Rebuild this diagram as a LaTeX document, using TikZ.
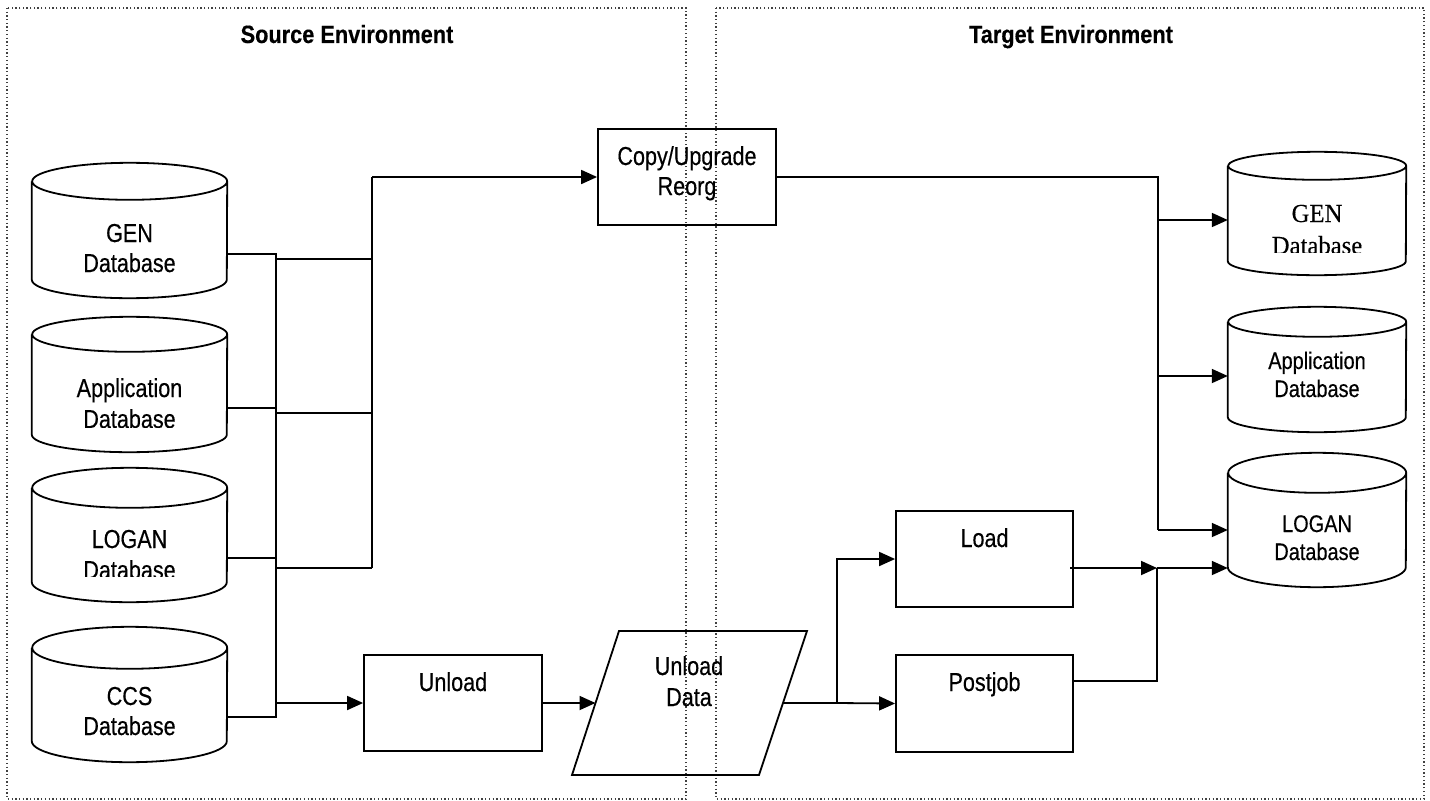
\documentclass[tikz,border=0pt]{standalone}
\usepackage{fontspec}
\usetikzlibrary{arrows.meta,calc}
\newfontfamily\labfont[FakeStretch=0.83,FakeBold=0.4]{Liberation Sans}
\newfontfamily\titfont[FakeStretch=0.87,FakeBold=0.3]{Liberation Sans}
\newfontfamily\serfont[FakeStretch=0.95,FakeBold=0.3]{Liberation Serif}
\tikzset{
  panel/.style={draw=black!75,line width=1.3bp,dash pattern=on 1.3bp off 2.4bp},
  shp/.style={draw=black,line width=1.8bp},
  con/.style={draw=black,line width=1.8bp},
  arr/.style={con,-{Triangle[length=16bp,width=14bp]}},
  box/.style={rectangle,inner sep=0pt},
  txt/.style={inner sep=0pt,anchor=base,font=\labfont\fontsize{26bp}{30bp}\selectfont},
  ttxt/.style={inner sep=0pt,anchor=base,font=\labfont\fontsize{24bp}{28bp}\selectfont},
  stxt/.style={inner sep=0pt,anchor=base,font=\serfont\fontsize{26bp}{30bp}\selectfont},
  title/.style={inner sep=0pt,anchor=base,font=\titfont\bfseries\fontsize{25bp}{30bp}\selectfont}
}
\newcommand\dbcyl[3]{%
  \draw[shp] ($(#1.north west)+(0,#3)$) -- ($(#1.south west)+(0,-#3)$)
    arc[start angle=180,end angle=360,x radius=#2bp,y radius=#3bp]
    -- ($(#1.north east)+(0,#3)$)
    arc[start angle=0,end angle=180,x radius=#2bp,y radius=#3bp]
    arc[start angle=180,end angle=360,x radius=#2bp,y radius=#3bp];}
\begin{document}
\begin{tikzpicture}[x=1bp,y=-1bp]
\useasboundingbox (0,0) rectangle (1430,800);
% panels
\draw[panel] (7,8) rectangle (686,799);
\draw[panel] (716,8) rectangle (1424,799);
\node[title] (stitle) at (347,43) {Source Environment};
\node[title] (ttitle) at (1071,43) {Target Environment};

% source cylinders
\node[box,minimum width=195bp,minimum height=135bp] (sgen) at (129.5,230.5) {};
\node[box,minimum width=195bp,minimum height=135bp] (sapp) at (129.5,384.5) {};
\node[box,minimum width=195bp,minimum height=134bp] (slog) at (129.5,535) {};
\node[box,minimum width=195bp,minimum height=135bp] (sccs) at (129.5,694.5) {};
\dbcyl{sgen}{97.5}{18.5}
\dbcyl{sapp}{97.5}{17.5}
\dbcyl{slog}{97.5}{20}
\dbcyl{sccs}{97.5}{21}
\node[txt] (sgen1) at (129.5,242) {GEN};
\node[txt] (sgen2) at (129.5,272) {Database};
\node[txt] (sapp1) at (129.5,397) {Application};
\begin{scope}
\clip (32,400) rectangle (227,427);
\node[txt] (sapp2) at (129.5,428) {Database};
\end{scope}
\node[txt] (slog1) at (129.5,548) {LOGAN};
\begin{scope}
\clip (32,552) rectangle (227,576);
\node[txt] (slog2) at (129.5,579) {Database};
\end{scope}
\node[txt] (sccs1) at (129.5,705) {CCS};
\node[txt] (sccs2) at (129.5,735) {Database};

% target cylinders
\node[box,minimum width=178bp,minimum height=123bp] (tgen) at (1317,213.5) {};
\node[box,minimum width=178bp,minimum height=125bp] (tapp) at (1317,369.5) {};
\node[box,minimum width=178bp,minimum height=134bp] (tlog) at (1317,520) {};
\dbcyl{tgen}{89}{14}
\dbcyl{tapp}{89}{15}
\dbcyl{tlog}{89}{20}
\node[stxt] (tgen1) at (1317,222) {GEN};
\begin{scope}
\clip (1228,226) rectangle (1406,252);
\node[stxt] (tgen2) at (1317,254) {Database};
\end{scope}
\node[ttxt] (tapp1) at (1317,369) {Application};
\node[ttxt] (tapp2) at (1317,397) {Database};
\node[ttxt] (tlog1) at (1317,532) {LOGAN};
\node[ttxt] (tlog2) at (1317,560) {Database};

% process boxes
\node[box,draw,line width=1.8bp,minimum width=178bp,minimum height=96bp] (copy) at (687,177) {};
\node[txt] (copy1) at (687,165) {Copy/Upgrade};
\node[txt] (copy2) at (687,195) {Reorg};
\node[box,draw,line width=1.8bp,minimum width=178bp,minimum height=96bp] (unload) at (453,703) {};
\node[txt] (unload1) at (453,691) {Unload};
\node[box,draw,line width=1.8bp,minimum width=177bp,minimum height=96bp] (load) at (984.5,559) {};
\node[txt] (load1) at (984.5,547) {Load};
\node[box,draw,line width=1.8bp,minimum width=177bp,minimum height=97bp] (postjob) at (984.5,703.5) {};
\node[txt] (postjob1) at (984.5,691) {Postjob};

% unload data parallelogram
\draw[shp] (619,631) -- (807,631) -- (759,775) -- (572,775) -- cycle;
\coordinate (dataW) at (595.5,703);
\coordinate (dataE) at (783,703);
\node[txt] (data1) at (689,675) {Unload};
\node[txt] (data2) at (689,706) {Data};

% source bus
\coordinate (b1top) at (276,254);
\coordinate (b1bot) at (276,717);
\coordinate (b2top) at (372,177);
\coordinate (b2bot) at (372,568);
\draw[con] (sgen.east |- 0,254) -- (277,254);
\draw[con] (sapp.east |- 0,408) -- (277,408);
\draw[con] (slog.east |- 0,558) -- (277,558);
\draw[con] (sccs.east |- 0,717) -- (277,717);
\draw[con] (b1top) -- (b1bot);
\draw[con] (276,259) -- (372,259);
\draw[con] (276,413) -- (372,413);
\draw[con] (276,568) -- (b2bot);
\draw[con] (b2bot) -- (b2top);
\draw[arr] (b2top) -- (copy.west);
\draw[arr] (276,703) -- (unload.west);
\draw[arr] (unload.east) -- (dataW);

% target side
\coordinate (split) at (837,703);
\draw[con] (dataE) -- (split);
\draw[arr] (split) -- (postjob.west);
\draw[arr] (split) |- (load.west);
\coordinate (merge) at (1157,568);
\draw[arr] (1070,568) -- (merge);
\draw[con] (postjob.east |- 0,681) -| (merge);
\draw[arr] (merge) -- (tlog.west |- merge);
\coordinate (cbus) at (1158,177);
\draw[con] (copy.east) -- (cbus) -- (1158,530);
\draw[arr] (1158,530) -- (tlog.west |- 0,530);
\draw[arr] (1158,220) -- (tgen.west |- 0,220);
\draw[arr] (1158,376) -- (tapp.west |- 0,376);
\end{tikzpicture}
\end{document}
